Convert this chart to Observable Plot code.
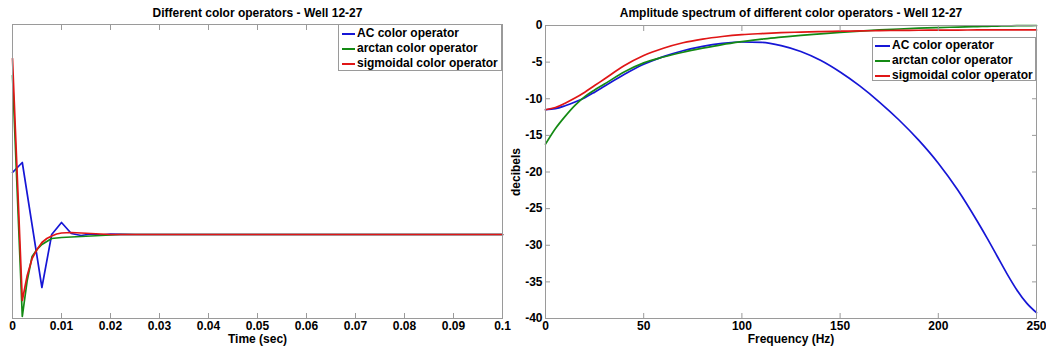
<!DOCTYPE html>
<html><head><meta charset="utf-8">
<script src="https://cdn.jsdelivr.net/npm/d3@7"></script>
<script src="https://cdn.jsdelivr.net/npm/@observablehq/plot@0.6"></script>
<style>
body{margin:0;background:#fff;}
#wrap{position:relative;width:1046px;height:351px;font-family:"Liberation Sans",Arial,sans-serif;font-weight:bold;color:#000;}
#wrap svg{position:absolute;top:0;}
.legend{position:absolute;box-sizing:border-box;border:1px solid #9a9a9a;background:#fff;font-size:12px;}
.legend .row{position:absolute;left:0;height:15px;line-height:15px;white-space:nowrap;}
.legend .sw{position:absolute;top:7px;height:2px;}
.legend .lab{position:absolute;top:0;}
</style>
</head><body>
<div id="wrap"></div>
<script>
// ---------- data ----------
const seriesNames = ["AC color operator", "arctan color operator", "sigmoidal color operator"];
const seriesColors = ["#1616d6", "#148a14", "#e01616"];

// time-domain operators (arbitrary amplitude units)
const timeAC = [0, 0.002, 0.004, 0.006, 0.008, 0.010, 0.012, 0.014, 0.016, 0.018, 0.020, 0.025, 0.030, 0.1];
const valAC  = [0.62, 0.72, 0.095, -0.53, 0.0, 0.12, 0.01, -0.01, 0.005, -0.005, 0.003, 0, 0, 0];
const timeArctan = [0, 0.002, 0.003, 0.004, 0.005, 0.006, 0.007, 0.008, 0.010, 0.012, 0.014, 0.016, 0.018, 0.020, 0.022, 0.1];
const valArctan  = [1.59, -0.82, -0.46, -0.22, -0.15, -0.10, -0.07, -0.04, -0.03, -0.025, -0.02, -0.015, -0.01, -0.005, 0, 0];
const timeSigmoidal = [0, 0.002, 0.003, 0.004, 0.005, 0.006, 0.007, 0.008, 0.009, 0.010, 0.012, 0.014, 0.016, 0.018, 0.020, 0.1];
const valSigmoidal  = [1.76, -0.66, -0.41, -0.24, -0.15, -0.08, -0.04, -0.015, 0.005, 0.015, 0.02, 0.015, 0.01, 0.005, 0, 0];

// amplitude spectra (dB)
const freq        = [0, 5, 10, 15, 20, 25, 30, 40, 50, 60, 70, 80, 90, 100, 110, 120, 130, 140, 150, 160, 170, 180, 190, 200, 210, 220, 225, 230, 235, 240, 245, 250];
const dbAC        = [-11.5, -11.35, -10.95, -10.45, -9.85, -9.1, -8.3, -6.7, -5.3, -4.25, -3.45, -2.85, -2.45, -2.25, -2.3, -2.75, -3.55, -4.75, -6.35, -8.25, -10.45, -12.9, -15.65, -18.8, -22.5, -26.8, -29.1, -31.5, -33.9, -36.1, -37.9, -39.2];
const dbArctan    = [-16.2, -14.1, -12.4, -10.9, -9.7, -8.8, -8.0, -6.35, -5.1, -4.3, -3.65, -3.1, -2.6, -2.2, -1.85, -1.6, -1.35, -1.15, -0.95, -0.76, -0.6, -0.48, -0.37, -0.28, -0.21, -0.14, -0.11, -0.08, -0.055, -0.03, -0.015, 0];
const dbSigmoidal = [-11.5, -11.2, -10.6, -9.9, -9.1, -8.2, -7.3, -5.5, -4.1, -3.1, -2.35, -1.85, -1.5, -1.25, -1.1, -0.98, -0.9, -0.83, -0.78, -0.74, -0.7, -0.67, -0.65, -0.63, -0.62, -0.61, -0.6, -0.6, -0.6, -0.6, -0.6, -0.6];

const timeTicks = [0, 0.01, 0.02, 0.03, 0.04, 0.05, 0.06, 0.07, 0.08, 0.09, 0.1];
const timeTickLabels = ["0", "0.01", "0.02", "0.03", "0.04", "0.05", "0.06", "0.07", "0.08", "0.09", "0.1"];
const freqTicks = [0, 50, 100, 150, 200, 250];
const dbTicks = [0, -5, -10, -15, -20, -25, -30, -35, -40];

const leftTitle = "Different color operators - Well 12-27";
const rightTitle = "Amplitude spectrum of different color operators - Well 12-27";
const leftXLabel = "Time (sec)";
const rightXLabel = "Frequency (Hz)";
const rightYLabel = "decibels";

// ---------- tables ----------
const timeRows = [
  ...timeAC.map((t, i) => ({series: seriesNames[0], t, v: valAC[i]})),
  ...timeArctan.map((t, i) => ({series: seriesNames[1], t, v: valArctan[i]})),
  ...timeSigmoidal.map((t, i) => ({series: seriesNames[2], t, v: valSigmoidal[i]}))
];
const specRows = [
  ...freq.map((f, i) => ({series: seriesNames[0], f, v: dbAC[i]})),
  ...freq.map((f, i) => ({series: seriesNames[1], f, v: dbArctan[i]})),
  ...freq.map((f, i) => ({series: seriesNames[2], f, v: dbSigmoidal[i]}))
];

const axisGrey = "#9a9a9a";
const style = {fontFamily: '"Liberation Sans", Arial, sans-serif', fontSize: "12px", fontWeight: "bold", color: "#000", background: "transparent", overflow: "visible"};

const left = Plot.plot({
  width: 523, height: 351,
  marginLeft: 12, marginRight: 21, marginTop: 24, marginBottom: 33,
  style,
  x: {domain: [0, 0.1], label: null},
  y: {domain: [-0.84, 2.1], axis: null},
  color: {domain: seriesNames, range: seriesColors},
  marks: [
    Plot.line(timeRows, {x: "t", y: "v", z: "series", stroke: "series", strokeWidth: 1.7}),
    Plot.frame({stroke: axisGrey}),
    Plot.axisX(timeTicks, {anchor: "bottom", tickSize: 5, dy: -5, tickFormat: () => "", stroke: axisGrey}),
    Plot.axisX(timeTicks, {anchor: "top", tickSize: 5, dy: 5, tickFormat: () => "", stroke: axisGrey}),
    Plot.axisX(timeTicks, {anchor: "bottom", tickSize: 0, tickPadding: 3, tickFormat: d => timeTickLabels[timeTicks.indexOf(d)], label: null}),
    Plot.text([leftXLabel], {text: d => d, frameAnchor: "bottom", dy: 21, lineAnchor: "middle", fontSize: 12}),
    Plot.text([leftTitle], {text: d => d, frameAnchor: "top", dy: -11.5, lineAnchor: "middle", fontSize: 12})
  ]
});
left.style.left = "0px";

const right = Plot.plot({
  width: 566, height: 351,
  marginLeft: 65, marginRight: 10, marginTop: 25, marginBottom: 33,
  style,
  x: {domain: [0, 250], label: null},
  y: {domain: [-40, 0], label: null},
  color: {domain: seriesNames, range: seriesColors},
  marks: [
    Plot.line(specRows, {x: "f", y: "v", z: "series", stroke: "series", strokeWidth: 1.7, curve: "monotone-x"}),
    Plot.frame({stroke: axisGrey}),
    Plot.axisX(freqTicks, {anchor: "bottom", tickSize: 5, dy: -5, tickFormat: () => "", stroke: axisGrey}),
    Plot.axisX(freqTicks, {anchor: "top", tickSize: 5, dy: 5, tickFormat: () => "", stroke: axisGrey}),
    Plot.axisY(dbTicks, {anchor: "left", tickSize: 5, dx: 5, tickFormat: () => "", stroke: axisGrey}),
    Plot.axisY(dbTicks, {anchor: "right", tickSize: 5, dx: -5, tickFormat: () => "", stroke: axisGrey}),
    Plot.axisX(freqTicks, {anchor: "bottom", tickSize: 0, tickPadding: 3, tickFormat: d => String(d), label: null}),
    Plot.axisY(dbTicks, {anchor: "left", tickSize: 0, tickPadding: 3, tickFormat: d => String(d), label: null}),
    Plot.text([rightXLabel], {text: d => d, frameAnchor: "bottom", dy: 21, lineAnchor: "middle", fontSize: 12}),
    Plot.text([rightYLabel], {text: d => d, frameAnchor: "left", dx: -29, rotate: -90, lineAnchor: "middle", textAnchor: "middle", fontSize: 12}),
    Plot.text([rightTitle], {text: d => d, frameAnchor: "top", dy: -12.3, lineAnchor: "middle", fontSize: 12})
  ]
});
right.style.left = "480px";

const wrap = document.getElementById("wrap");
wrap.appendChild(left);
wrap.appendChild(right);

// ---------- legends ----------
function legend(box) {
  const div = d3.select(wrap).append("div").attr("class", "legend")
    .style("left", box.left + "px").style("top", box.top + "px")
    .style("width", box.width + "px").style("height", box.height + "px");
  seriesNames.forEach((name, i) => {
    const row = div.append("div").attr("class", "row").style("top", (box.first + i * box.step - 7.5) + "px");
    row.append("span").attr("class", "sw").style("left", box.swLeft + "px").style("width", box.swWidth + "px").style("background", seriesColors[i]);
    row.append("span").attr("class", "lab").style("left", box.textLeft + "px").text(name);
  });
}
legend({left: 338, top: 24, width: 164, height: 47, first: 8.5, step: 15, swLeft: 3, swWidth: 13, textLeft: 18});
legend({left: 872, top: 37, width: 164, height: 44, first: 7.5, step: 15, swLeft: 2, swWidth: 15, textLeft: 19});
</script>
</body></html>
